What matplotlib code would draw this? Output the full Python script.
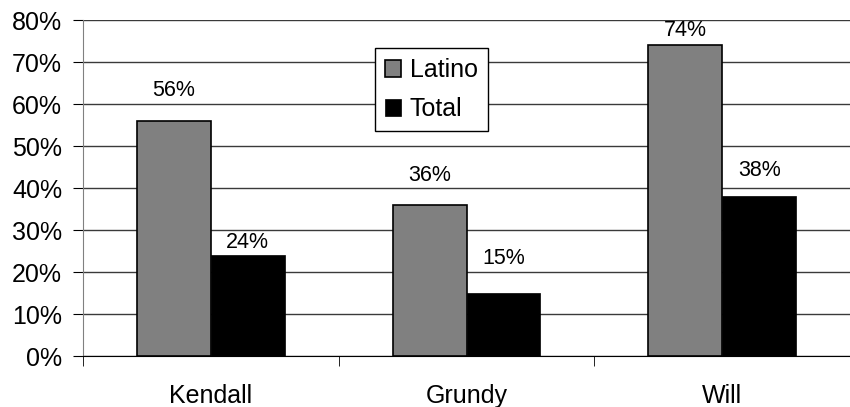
import matplotlib.pyplot as plt
import numpy as np
from matplotlib.ticker import PercentFormatter

counties = ["Kendall", "Grundy", "Will"]
latino = [56, 36, 74]
total = [24, 15, 38]
# label offsets above bar tops, in pixels (as drawn in the original)
latino_off = [30, 29, 15]
total_off = [13, 35, 26]
yticks = [0, 10, 20, 30, 40, 50, 60, 70, 80]


def main():
    plt.rcParams['font.family'] = ['Liberation Sans', 'DejaVu Sans']

    fig = plt.figure(figsize=(8.5, 4.07), dpi=100)
    ax = fig.add_axes([83 / 850, 51 / 407, 767 / 850, 336 / 407])

    x = np.arange(len(counties))
    w = 0.289
    b1 = ax.bar(x - w / 2, latino, w, color='#808080', edgecolor='black',
                linewidth=1.2, label="Latino", zorder=3)
    b2 = ax.bar(x + w / 2, total, w, color='black', edgecolor='black',
                linewidth=0.5, label="Total", zorder=3)

    for rect, v, off in zip(b1, latino, latino_off):
        ax.annotate(f"{v}%", (rect.get_x() + rect.get_width() / 2, v),
                    xytext=(0, off), textcoords='offset pixels',
                    ha='center', va='center', fontsize=15.5)
    for rect, v, off in zip(b2, total, total_off):
        ax.annotate(f"{v}%", (rect.get_x() + rect.get_width() / 2, v),
                    xytext=(0, off), textcoords='offset pixels',
                    ha='center', va='center', fontsize=15.5)

    ax.set_ylim(0, 80)
    ax.set_xlim(-0.5, 2.46)
    ax.set_yticks(yticks)
    ax.yaxis.set_major_formatter(PercentFormatter(decimals=0))
    ax.grid(axis='y', color='#3a3a3a', linewidth=1, zorder=0)

    ax.set_xticks(x)
    ax.set_xticklabels(counties, fontsize=18)
    ax.set_xticks([-0.5, 0.5, 1.5, 2.5], minor=True)
    ax.tick_params(axis='x', which='major', length=0, pad=20)
    ax.tick_params(axis='x', which='minor', length=7, direction='out',
                   color='black')
    ax.tick_params(axis='y', length=7, direction='out', color='black',
                   labelsize=18, pad=8)

    for s in ['top', 'right']:
        ax.spines[s].set_visible(False)
    ax.spines['left'].set_color('#808080')
    ax.spines['bottom'].set_color('black')

    leg = ax.legend(loc='upper left', bbox_to_anchor=(375 / 850, 1 - 48 / 407),
                    bbox_transform=fig.transFigure, fontsize=18,
                    fancybox=False, framealpha=1, edgecolor='black',
                    handlelength=0.65, handleheight=0.65, handletextpad=0.35,
                    labelspacing=0.6, borderpad=0.4, borderaxespad=0)
    leg.get_frame().set_linewidth(1)

    fig.savefig("out.png", dpi=100)


if __name__ == "__main__":
    main()
